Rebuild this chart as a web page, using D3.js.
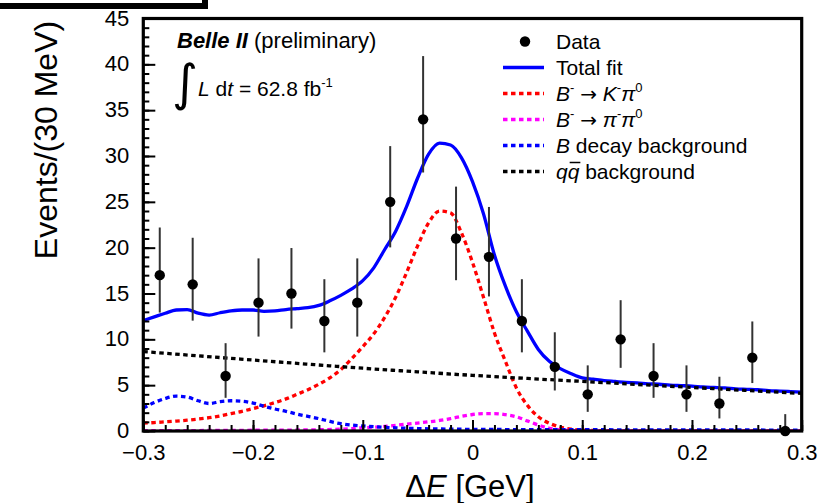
<!DOCTYPE html>
<html>
<head>
<meta charset="utf-8">
<script src="https://cdn.jsdelivr.net/npm/d3@7/dist/d3.min.js"></script>
<style>
body { margin: 0; background: #fff; }
svg { display: block; font-family: "Liberation Sans", Arial, sans-serif; }
</style>
</head>
<body>
<svg id="chart" width="830" height="503"></svg>
<script>
// data: events per 30 MeV bin
var binCenters = [-0.285, -0.255, -0.225, -0.195, -0.165, -0.135, -0.105, -0.075, -0.045, -0.015,
                  0.015, 0.045, 0.075, 0.105, 0.135, 0.165, 0.195, 0.225, 0.255, 0.285];
var events  = [17, 16, 6, 14, 15, 12, 14, 25, 34, 21, 19, 12, 7, 4, 10, 6, 4, 3, 8, 0];
var errLow  = [12.92, 12.04, 3.62, 10.30, 11.17, 8.58, 10.30, 20.03, 28.2, 16.45,
               14.68, 8.58, 4.42, 2.09, 6.89, 3.62, 2.09, 1.37, 5.23, 0];
var errHigh = [22.2, 21.08, 9.58, 18.83, 19.96, 16.56, 18.83, 31.08, 40.9, 26.66,
               24.44, 16.56, 10.77, 7.16, 14.27, 9.58, 7.16, 5.92, 11.95, 1.84];

// fit curves sampled on a 10 MeV grid
var gridX = [-0.30, -0.29, -0.28, -0.27, -0.26, -0.25, -0.24, -0.23, -0.22, -0.21,
             -0.20, -0.19, -0.18, -0.17, -0.16, -0.15, -0.14, -0.13, -0.12, -0.11,
             -0.10, -0.09, -0.08, -0.07, -0.06, -0.05, -0.04, -0.03, -0.02, -0.01,
             0.00, 0.01, 0.02, 0.03, 0.04, 0.05, 0.06, 0.07, 0.08, 0.09,
             0.10, 0.11, 0.12, 0.13, 0.14, 0.15, 0.16, 0.17, 0.18, 0.19,
             0.20, 0.21, 0.22, 0.23, 0.24, 0.25, 0.26, 0.27, 0.28, 0.29, 0.30];
var totalFit = [12.05, 12.45, 12.85, 13.2, 13.25, 12.85, 12.65, 12.9, 13.1, 13.2,
                13.2, 13.05, 13.1, 13.25, 13.35, 13.45, 13.7, 14.2, 14.8, 15.5,
                16.4, 17.8, 19.8, 21.8, 24.5, 27.6, 30.2, 31.4, 31.2, 29.8,
                27.2, 23.7, 19.2, 15.8, 13.0, 10.9, 8.9, 7.6, 6.8, 6.25,
                5.8, 5.65, 5.5, 5.4, 5.3, 5.25, 5.15, 5.1, 5.0, 4.95,
                4.9, 4.8, 4.75, 4.7, 4.6, 4.55, 4.5, 4.4, 4.35, 4.3, 4.25];
var kPi0 = [0.85, 0.92, 1.0, 1.08, 1.18, 1.3, 1.45, 1.65, 1.9, 2.15,
            2.45, 2.75, 3.1, 3.5, 4.0, 4.5, 5.1, 5.8, 6.7, 7.9,
            9.2, 10.6, 12.4, 14.6, 17.3, 20.2, 22.7, 24.0, 23.8, 21.6,
            18.4, 14.6, 10.7, 7.6, 4.7, 2.8, 1.55, 0.85, 0.42, 0.2,
            0.1, 0.05, 0.03, 0.02, 0.02, 0.02, 0.02, 0.02, 0.02, 0.02,
            0.02, 0.02, 0.02, 0.02, 0.02, 0.02, 0.02, 0.02, 0.02, 0.02, 0.02];
var bDecayBkg = [2.5, 3.1, 3.55, 3.8, 3.7, 3.3, 3.0, 3.2, 3.3, 3.25,
                 3.05, 2.7, 2.4, 2.15, 1.85, 1.6, 1.35, 1.05, 0.8, 0.65,
                 0.55, 0.47, 0.4, 0.35, 0.3, 0.27, 0.24, 0.22, 0.2, 0.19,
                 0.18, 0.17, 0.17, 0.16, 0.16, 0.16, 0.15, 0.15, 0.15, 0.14,
                 0.14, 0.14, 0.14, 0.13, 0.13, 0.13, 0.13, 0.12, 0.12, 0.12,
                 0.12, 0.12, 0.11, 0.11, 0.11, 0.11, 0.11, 0.1, 0.1, 0.1, 0.1];
var piPi0X = [-0.30, -0.25, -0.20, -0.15, -0.12, -0.10, -0.08, -0.06, -0.04, -0.03, -0.02, -0.01,
              0.00, 0.01, 0.02, 0.03, 0.04, 0.05, 0.06, 0.07, 0.08, 0.09, 0.10, 0.15, 0.20, 0.30];
var piPi0  = [0.03, 0.05, 0.08, 0.12, 0.2, 0.35, 0.5, 0.75, 1.0, 1.15, 1.35, 1.6,
              1.8, 1.9, 1.9, 1.78, 1.55, 1.1, 0.65, 0.3, 0.12, 0.05, 0.02, 0.01, 0.0, 0.0];
var qqX   = [-0.30, -0.25, -0.20, -0.15, -0.10, -0.05, 0.00, 0.05, 0.10, 0.15, 0.20, 0.25, 0.30];
var qqBkg = [8.66, 8.2, 7.74, 7.29, 6.85, 6.45, 6.07, 5.73, 5.41, 5.08, 4.75, 4.42, 4.1];

var xTicks = [-0.3, -0.2, -0.1, 0, 0.1, 0.2, 0.3];
var xTickLabels = ["\u22120.3", "\u22120.2", "\u22120.1", "0", "0.1", "0.2", "0.3"];
var yTicks = [0, 5, 10, 15, 20, 25, 30, 35, 40, 45];

var pLeft = 143.3, pRight = 801.7, pTop = 18.5, pBottom = 431;

var svg = d3.select("#chart");

var x = d3.scaleLinear().domain([-0.3, 0.3]).range([pLeft, pRight]);
var y = d3.scaleLinear().domain([0, 45]).range([pBottom, pTop]);

// the cut-off box in the top left corner
svg.append("path")
    .attr("d", "M0,6 H205 V0")
    .attr("fill", "none")
    .attr("stroke", "#000")
    .attr("stroke-width", 6);

svg.append("defs").append("clipPath").attr("id", "clip")
    .append("rect")
    .attr("x", pLeft).attr("y", pTop)
    .attr("width", pRight - pLeft).attr("height", pBottom - pTop);

var plot = svg.append("g").attr("clip-path", "url(#clip)");

function curve(xs, ys, color, dashed) {
    var line = d3.line()
        .x(function(d, i) { return x(xs[i]); })
        .y(function(d) { return y(d); })
        .curve(d3.curveMonotoneX);
    plot.append("path")
        .datum(ys)
        .attr("d", line)
        .attr("fill", "none")
        .attr("stroke", color)
        .attr("stroke-width", 3.3)
        .attr("stroke-dasharray", dashed ? "4.5,3.5" : null);
}

curve(gridX, totalFit, "#0000ff", false);
curve(gridX, kPi0, "#ff0000", true);
curve(piPi0X, piPi0, "#ff00ff", true);
curve(gridX, bDecayBkg, "#0000ff", true);
curve(qqX, qqBkg, "#000000", true);

// axes with inward ticks
var xAxis = svg.append("g")
    .attr("transform", "translate(0," + pBottom + ")")
    .call(d3.axisBottom(x).tickValues(xTicks).tickSize(-11).tickPadding(13)
        .tickFormat(function(d, i) { return xTickLabels[i]; }));
var xMinor = svg.append("g")
    .attr("transform", "translate(0," + pBottom + ")")
    .call(d3.axisBottom(x).ticks(30).tickSize(-6).tickFormat(""));
var yAxis = svg.append("g")
    .attr("transform", "translate(" + pLeft + ",0)")
    .call(d3.axisLeft(y).tickValues(yTicks).tickSize(-12).tickPadding(14));
var yMinor = svg.append("g")
    .attr("transform", "translate(" + pLeft + ",0)")
    .call(d3.axisLeft(y).ticks(45).tickSize(-6).tickFormat(""));

[xAxis, xMinor, yAxis, yMinor].forEach(function(g) {
    g.select(".domain").remove();
    g.selectAll("line").attr("stroke", "#000").attr("stroke-width", 2);
    g.selectAll("text").attr("font-size", 22).attr("fill", "#000")
        .attr("font-family", "Liberation Sans, Arial, sans-serif");
});
yAxis.selectAll("text").attr("dy", "0.3em");

svg.append("rect")
    .attr("x", pLeft).attr("y", pTop)
    .attr("width", pRight - pLeft).attr("height", pBottom - pTop)
    .attr("fill", "none")
    .attr("stroke", "#000")
    .attr("stroke-width", 3.2);

// data points with poisson errors
var pts = svg.append("g");
pts.selectAll("line")
    .data(events)
    .enter().append("line")
    .attr("x1", function(d, i) { return x(binCenters[i]); })
    .attr("x2", function(d, i) { return x(binCenters[i]); })
    .attr("y1", function(d, i) { return y(errLow[i]); })
    .attr("y2", function(d, i) { return y(errHigh[i]); })
    .attr("stroke", "#333")
    .attr("stroke-width", 2);
pts.selectAll("circle")
    .data(events)
    .enter().append("circle")
    .attr("cx", function(d, i) { return x(binCenters[i]); })
    .attr("cy", function(d) { return y(d); })
    .attr("r", 5.2)
    .attr("fill", "#000");

// axis titles
svg.append("text")
    .attr("transform", "translate(57,140) rotate(-90)")
    .attr("text-anchor", "middle")
    .attr("font-size", 32)
    .text("Events/(30 MeV)");

var xt = svg.append("text")
    .attr("x", 470).attr("y", 497)
    .attr("text-anchor", "middle")
    .attr("font-size", 31);
xt.append("tspan").text("\u0394");
xt.append("tspan").attr("font-style", "italic").text("E");
xt.append("tspan").text(" [GeV]");

// experiment label
var belle = svg.append("text").attr("x", 177).attr("y", 48).attr("font-size", 22);
belle.append("tspan").attr("font-weight", "bold").attr("font-style", "italic").text("Belle II");
belle.append("tspan").text(" (preliminary)");

svg.append("text")
    .attr("x", 172).attr("y", 100)
    .attr("font-size", 50)
    .attr("font-family", "DejaVu Sans, sans-serif")
    .text("\u222B");

var lumi = svg.append("text").attr("x", 198).attr("y", 96).attr("font-size", 21);
lumi.append("tspan").attr("font-style", "italic").text("L");
lumi.append("tspan").text(" d");
lumi.append("tspan").attr("font-style", "italic").text("t");
lumi.append("tspan").text(" = 62.8 fb");
lumi.append("tspan").attr("font-size", 13).attr("dy", -9).text("-1");

// legend
var legY = [41.5, 67.5, 93.5, 119.5, 145.5, 171.5];
var leg = svg.append("g").attr("font-size", 21);

leg.append("circle").attr("cx", 525).attr("cy", legY[0]).attr("r", 5.2).attr("fill", "#000");
leg.append("text").attr("x", 556).attr("y", legY[0] + 7).text("Data");

var legLines = [["#0000ff", false], ["#ff0000", true], ["#ff00ff", true], ["#0000ff", true], ["#000000", true]];
legLines.forEach(function(s, i) {
    leg.append("line")
        .attr("x1", 503).attr("x2", 544)
        .attr("y1", legY[i + 1]).attr("y2", legY[i + 1])
        .attr("stroke", s[0])
        .attr("stroke-width", 3.3)
        .attr("stroke-dasharray", s[1] ? "4.5,3.5" : null);
});

leg.append("text").attr("x", 556).attr("y", legY[1] + 7).text("Total fit");

function decay(row, a) {
    var t = leg.append("text").attr("x", 556).attr("y", legY[row] + 7);
    t.append("tspan").attr("font-style", "italic").text("B");
    t.append("tspan").attr("font-size", 13).attr("dy", -9).text("-");
    t.append("tspan").attr("dy", 9).text(" ");
    t.append("tspan").attr("font-family", "DejaVu Sans, sans-serif").attr("font-size", 20).text("\u2192");
    t.append("tspan").text(" ");
    t.append("tspan").attr("font-style", "italic").text(a);
    t.append("tspan").attr("font-size", 13).attr("dy", -9).text("-");
    t.append("tspan").attr("dy", 9).attr("font-style", "italic").text("\u03C0");
    t.append("tspan").attr("font-size", 13).attr("dy", -9).text("0");
}
decay(2, "K");
decay(3, "\u03C0");

var bd = leg.append("text").attr("x", 556).attr("y", legY[4] + 7);
bd.append("tspan").attr("font-style", "italic").text("B");
bd.append("tspan").text(" decay background");

var qq = leg.append("text").attr("x", 556).attr("y", legY[5] + 7);
qq.append("tspan").attr("font-style", "italic").text("qq");
qq.append("tspan").text(" background");
// bar over the second q
var q0 = qq.node().getStartPositionOfChar(1).x;
var q1 = qq.node().getEndPositionOfChar(1).x;
leg.append("line")
    .attr("x1", q0 + 2).attr("x2", q1 + 1)
    .attr("y1", legY[5] - 9).attr("y2", legY[5] - 9)
    .attr("stroke", "#000").attr("stroke-width", 1.5);
</script>
</body>
</html>
